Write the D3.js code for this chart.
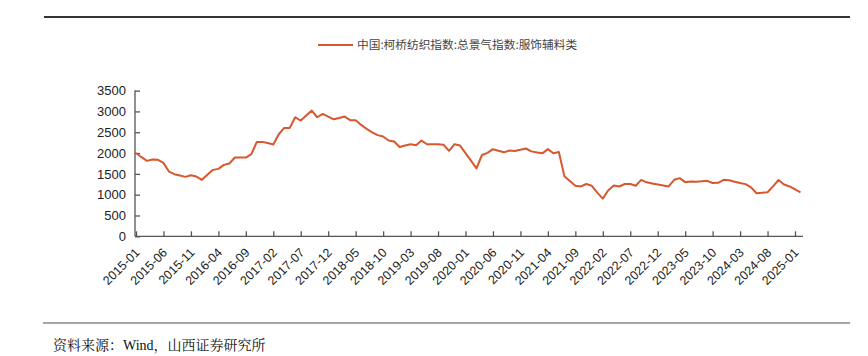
<!DOCTYPE html>
<html>
<head>
<meta charset="utf-8">
<script src="https://cdn.jsdelivr.net/npm/d3@7"></script>
<style>
  html, body { margin: 0; padding: 0; background: #fff; }
  svg { display: block; }
</style>
</head>
<body>
<svg id="chart" width="868" height="356"></svg>
<script>
// ---- data ----
const seriesName = "中国:柯桥纺织指数:总景气指数:服饰辅料类";
const startYear = 2015, startMonth = 1;
const values = [
  2000, 1900, 1812, 1844, 1836, 1764, 1556, 1492, 1460, 1428,
  1468, 1436, 1356, 1476, 1596, 1620, 1716, 1748, 1892, 1892,
  1892, 1972, 2268, 2268, 2240, 2204, 2452, 2604, 2604, 2860,
  2780, 2900, 3020, 2860, 2940, 2875, 2810, 2840, 2876, 2790,
  2790, 2676, 2580, 2495, 2430, 2396, 2300, 2276, 2145, 2180,
  2212, 2185, 2300, 2212, 2210, 2210, 2200, 2052, 2212, 2180,
  2000, 1820, 1632, 1953, 2005, 2093, 2055, 2017, 2060, 2050,
  2080, 2109, 2040, 2015, 1993, 2093, 1995, 2025, 1445, 1330,
  1213, 1197, 1257, 1213, 1050, 905, 1105, 1221, 1197, 1257,
  1257, 1213, 1355, 1297, 1270, 1245, 1220, 1197, 1357, 1397,
  1301, 1317, 1310, 1320, 1333, 1281, 1285, 1357, 1345, 1310,
  1280, 1253, 1177, 1033, 1045, 1057, 1200, 1353, 1245, 1197,
  1130, 1057
];
const yTicks = [0, 500, 1000, 1500, 2000, 2500, 3000, 3500];
const xTickLabels = ["2015-01","2015-06","2015-11","2016-04","2016-09","2017-02","2017-07","2017-12",
  "2018-05","2018-10","2019-03","2019-08","2020-01","2020-06","2020-11","2021-04","2021-09",
  "2022-02","2022-07","2022-12","2023-05","2023-10","2024-03","2024-08","2025-01"];
const sourceText = "资料来源：Wind，山西证券研究所";

// month labels for each value
const months = values.map((v, i) => {
  const t = (startMonth - 1) + i;
  const y = startYear + Math.floor(t / 12);
  const m = (t % 12) + 1;
  return y + "-" + String(m).padStart(2, "0");
});
const data = values.map((v, i) => ({ i, label: months[i], v }));

// ---- layout ----
const svg = d3.select("#chart");
const axisColor = "#555";
const lineColor = "#D8582E";

const x = d3.scaleLinear().domain([0, values.length - 1]).range([136, 800.5]);
const y = d3.scaleLinear().domain([0, 3500]).range([236.3, 90.6]);

// top rule
svg.append("line").attr("x1", 44).attr("x2", 850).attr("y1", 17).attr("y2", 17)
  .attr("stroke", "#333").attr("stroke-width", 2);
// bottom rule
svg.append("line").attr("x1", 43).attr("x2", 850).attr("y1", 323).attr("y2", 323)
  .attr("stroke", "#888").attr("stroke-width", 1.5);

// legend
svg.append("line").attr("x1", 318).attr("x2", 353).attr("y1", 45).attr("y2", 45)
  .attr("stroke", lineColor).attr("stroke-width", 2);
svg.append("text").attr("x", 357).attr("y", 49)
  .attr("font-family", "'Noto Sans CJK SC', sans-serif").attr("font-size", 11.7)
  .attr("fill", "#444").text(seriesName);

// y axis
const yAxis = d3.axisRight(y).tickValues(yTicks).tickSize(5).tickFormat(d3.format("d"));
const gy = svg.append("g").attr("transform", "translate(135,0)").call(yAxis);
gy.select(".domain").attr("stroke", axisColor).attr("stroke-width", 1.3)
  .attr("d", `M0,${y(3500)}V${y(0)}`);
gy.selectAll(".tick line").attr("stroke", axisColor).attr("stroke-width", 1.3);
gy.selectAll(".tick text").attr("x", -9).attr("text-anchor", "end")
  .attr("font-family", "'Liberation Sans', Arial, sans-serif").attr("font-size", 13)
  .attr("fill", "#222");

// x axis
const xTickIdx = xTickLabels.map(l => months.indexOf(l));
const xAxis = d3.axisTop(x).tickValues(xTickIdx).tickSize(5)
  .tickFormat(d => months[d]);
const gx = svg.append("g").attr("transform", `translate(0,${y(0)})`).call(xAxis);
gx.select(".domain").attr("stroke", axisColor).attr("stroke-width", 1.3)
  .attr("d", `M135,0H803`);
gx.selectAll(".tick line").attr("stroke", axisColor).attr("stroke-width", 1.3);
gx.selectAll(".tick text")
  .attr("font-family", "'Liberation Sans', Arial, sans-serif").attr("font-size", 12.5)
  .attr("fill", "#222")
  .attr("text-anchor", "end")
  .attr("y", 0).attr("dy", 0)
  .attr("transform", "translate(4,17) rotate(-45)");

// line
const line = d3.line().x(d => x(d.i)).y(d => y(d.v));
svg.append("path").datum(data).attr("d", line)
  .attr("fill", "none").attr("stroke", lineColor).attr("stroke-width", 2)
  .attr("stroke-linejoin", "round");

// source
svg.append("text").attr("x", 53).attr("y", 350)
  .attr("font-family", "'Liberation Serif', 'Noto Serif CJK SC', 'Noto Sans CJK SC', serif")
  .attr("font-size", 14).attr("fill", "#111").text(sourceText);
</script>
</body>
</html>
